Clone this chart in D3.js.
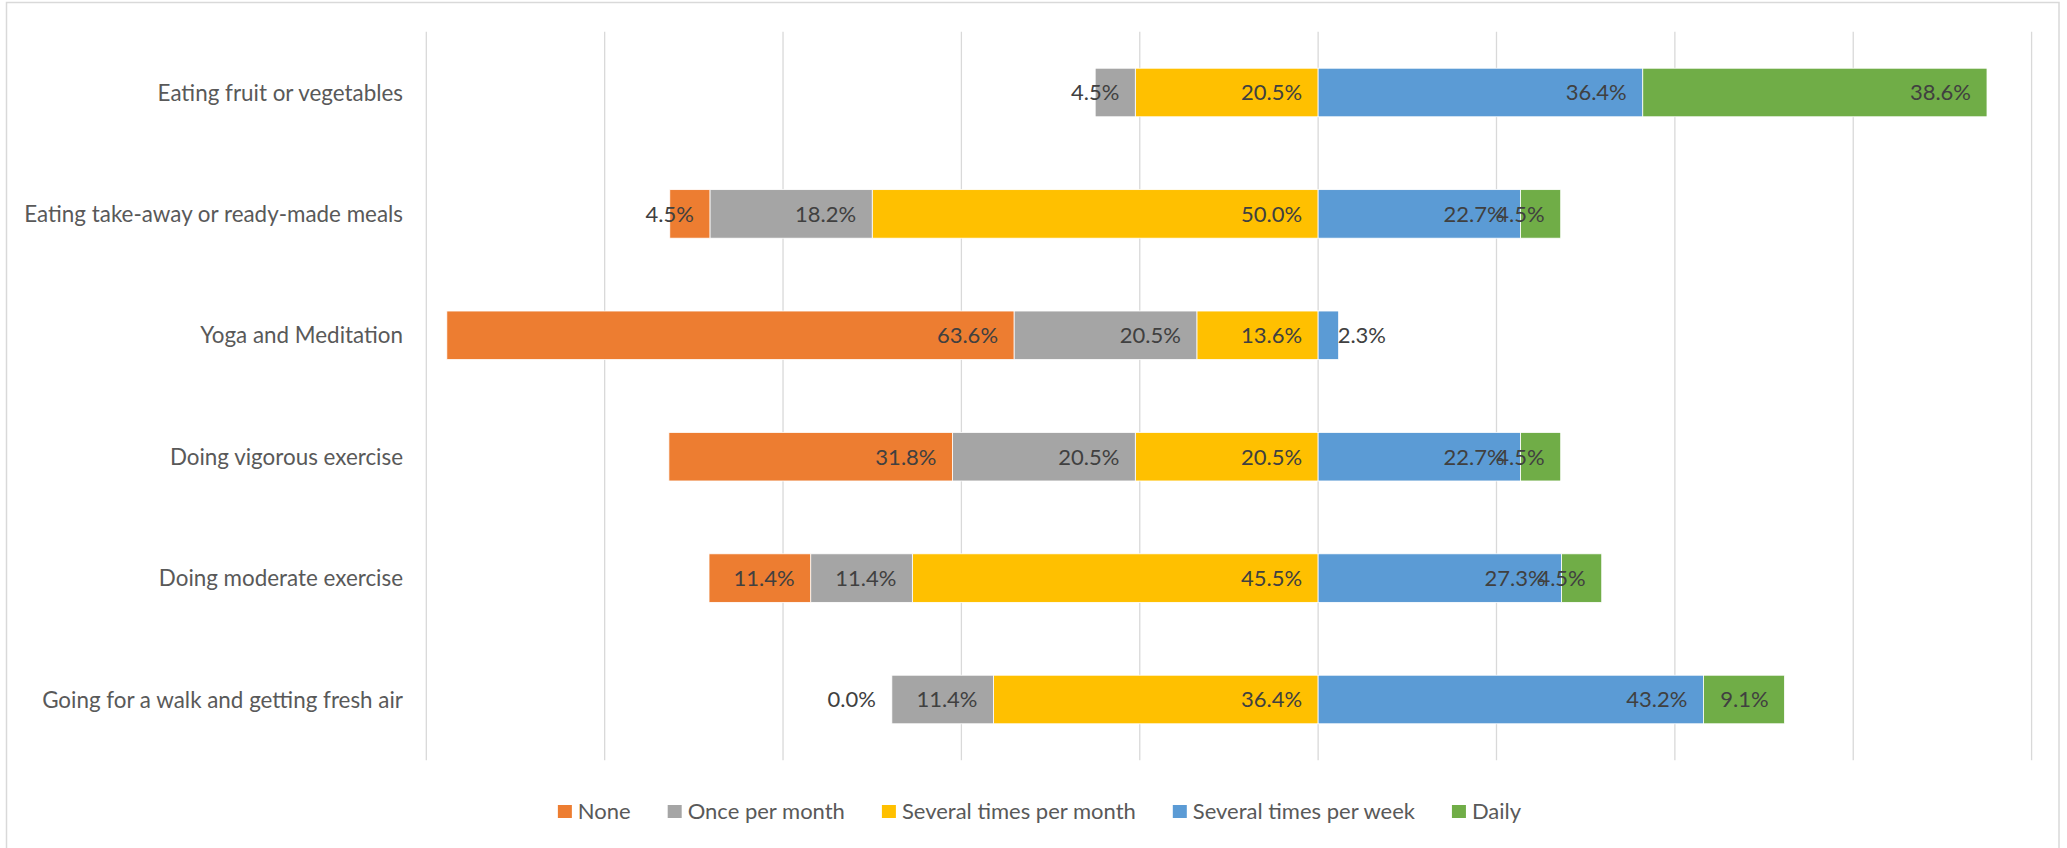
<!doctype html>
<html lang="en">
  <head>
    <meta charset="utf-8">
    <script src="https://d3js.org/d3.v7.min.js"></script>
    <title>Healthy habits</title>
    <style>
      body { margin: 0; background: #fff; }
      text { font-family: Lato, "Open Sans", sans-serif; }
    </style>
  </head>
  <body>
    <div id="chart"></div>
    <script type="text/javascript">

      // Activities (top to bottom) and share of answers per frequency, in %
      const activities = [
        "Eating fruit or vegetables",
        "Eating take-away or ready-made meals",
        "Yoga and Meditation",
        "Doing vigorous exercise",
        "Doing moderate exercise",
        "Going for a walk and getting fresh air"
      ];
      const seriesNames = ["None", "Once per month", "Several times per month", "Several times per week", "Daily"];
      const none          = [null, 4.5, 63.6, 31.8, 11.4, 0.0];
      const oncePerMonth  = [4.5, 18.2, 20.5, 20.5, 11.4, 11.4];
      const severalMonth  = [20.5, 50.0, 13.6, 20.5, 45.5, 36.4];
      const severalWeek   = [36.4, 22.7, 2.3, 22.7, 27.3, 43.2];
      const daily         = [38.6, 4.5, null, 4.5, 4.5, 9.1];
      const xTicks = [-100, -80, -60, -40, -20, 0, 20, 40, 60, 80];

      const colors = ["#ED7D31", "#A5A5A5", "#FFC000", "#5B9BD5", "#70AD47"];
      const series = [none, oncePerMonth, severalMonth, severalWeek, daily];

      const W = 2067, H = 848;
      const svg = d3.select("#chart").append("svg")
        .attr("width", W).attr("height", H);

      // chart frame
      svg.append("rect")
        .attr("x", 6.5).attr("y", 2.5)
        .attr("width", 2059 - 6.5).attr("height", H + 10)
        .attr("fill", "#fff")
        .attr("stroke", "#d9d9d9").attr("stroke-width", 1.5);

      const x = d3.scaleLinear().domain([-100, 80]).range([426.3, 2031.6]);
      const y = d3.scaleBand().domain(activities).range([31.8, 760.2])
        .paddingInner(0.6).paddingOuter(0.3);

      // vertical gridlines
      svg.append("g").selectAll("line")
        .data(xTicks).enter().append("line")
          .attr("x1", d => x(d)).attr("x2", d => x(d))
          .attr("y1", 31.8).attr("y2", 760.2)
          .attr("stroke", "#d9d9d9").attr("stroke-width", 1.3);

      // build segments: first three series go left of zero, last two right
      const segs = [];
      activities.forEach((a, r) => {
        let left = 0;
        for (let s = 2; s >= 0; s--) {
          const v = series[s][r];
          if (v == null) continue;
          segs.push({a, s, v, x0: left - v, x1: left, outside: false});
          left -= v;
        }
        let right = 0;
        for (let s = 3; s < 5; s++) {
          const v = series[s][r];
          if (v == null) continue;
          // label sits past the bar end when the next series is empty
          const outside = s < 4 && series[s + 1][r] == null;
          segs.push({a, s, v, x0: right, x1: right + v, outside});
          right += v;
        }
      });

      svg.append("g").selectAll("rect")
        .data(segs).enter().append("rect")
          .attr("x", d => x(d.x0))
          .attr("y", d => y(d.a))
          .attr("width", d => x(d.x1) - x(d.x0))
          .attr("height", y.bandwidth())
          .attr("fill", d => colors[d.s])
          .attr("stroke", d => d.v > 0 ? "#fff" : "none")
          .attr("stroke-width", 0.8);

      svg.append("g").selectAll("text")
        .data(segs).enter().append("text")
          .attr("x", d => d.outside ? x(d.x1) - 1 : x(d.x1) - 16)
          .attr("y", d => y(d.a) + y.bandwidth() / 2)
          .attr("dy", "0.36em")
          .attr("text-anchor", d => d.outside ? "start" : "end")
          .attr("font-size", 22)
          .attr("fill", "#404040")
          .text(d => d.v.toFixed(1) + "%");

      // category labels
      svg.append("g").selectAll("text")
        .data(activities).enter().append("text")
          .attr("x", 403)
          .attr("y", d => y(d) + y.bandwidth() / 2)
          .attr("dy", "0.36em")
          .attr("text-anchor", "end")
          .attr("font-size", 22.4)
          .attr("fill", "#595959")
          .text(d => d);

      // legend, centred under the plot
      const legend = svg.append("g");
      let lx = 0;
      seriesNames.forEach((name, i) => {
        const g = legend.append("g").attr("transform", "translate(" + lx + ",0)");
        g.append("rect").attr("x", 0).attr("y", -6.5)
          .attr("width", 14).attr("height", 13).attr("fill", colors[i]);
        const t = g.append("text").attr("x", 20).attr("dy", "0.36em")
          .attr("font-size", 22).attr("fill", "#595959").text(name);
        lx += 20 + t.node().getComputedTextLength() + 37;
      });
      const legendW = lx - 37;
      legend.attr("transform", "translate(" + (1039.5 - legendW / 2) + ",811.5)");
    </script>
  </body>
</html>
